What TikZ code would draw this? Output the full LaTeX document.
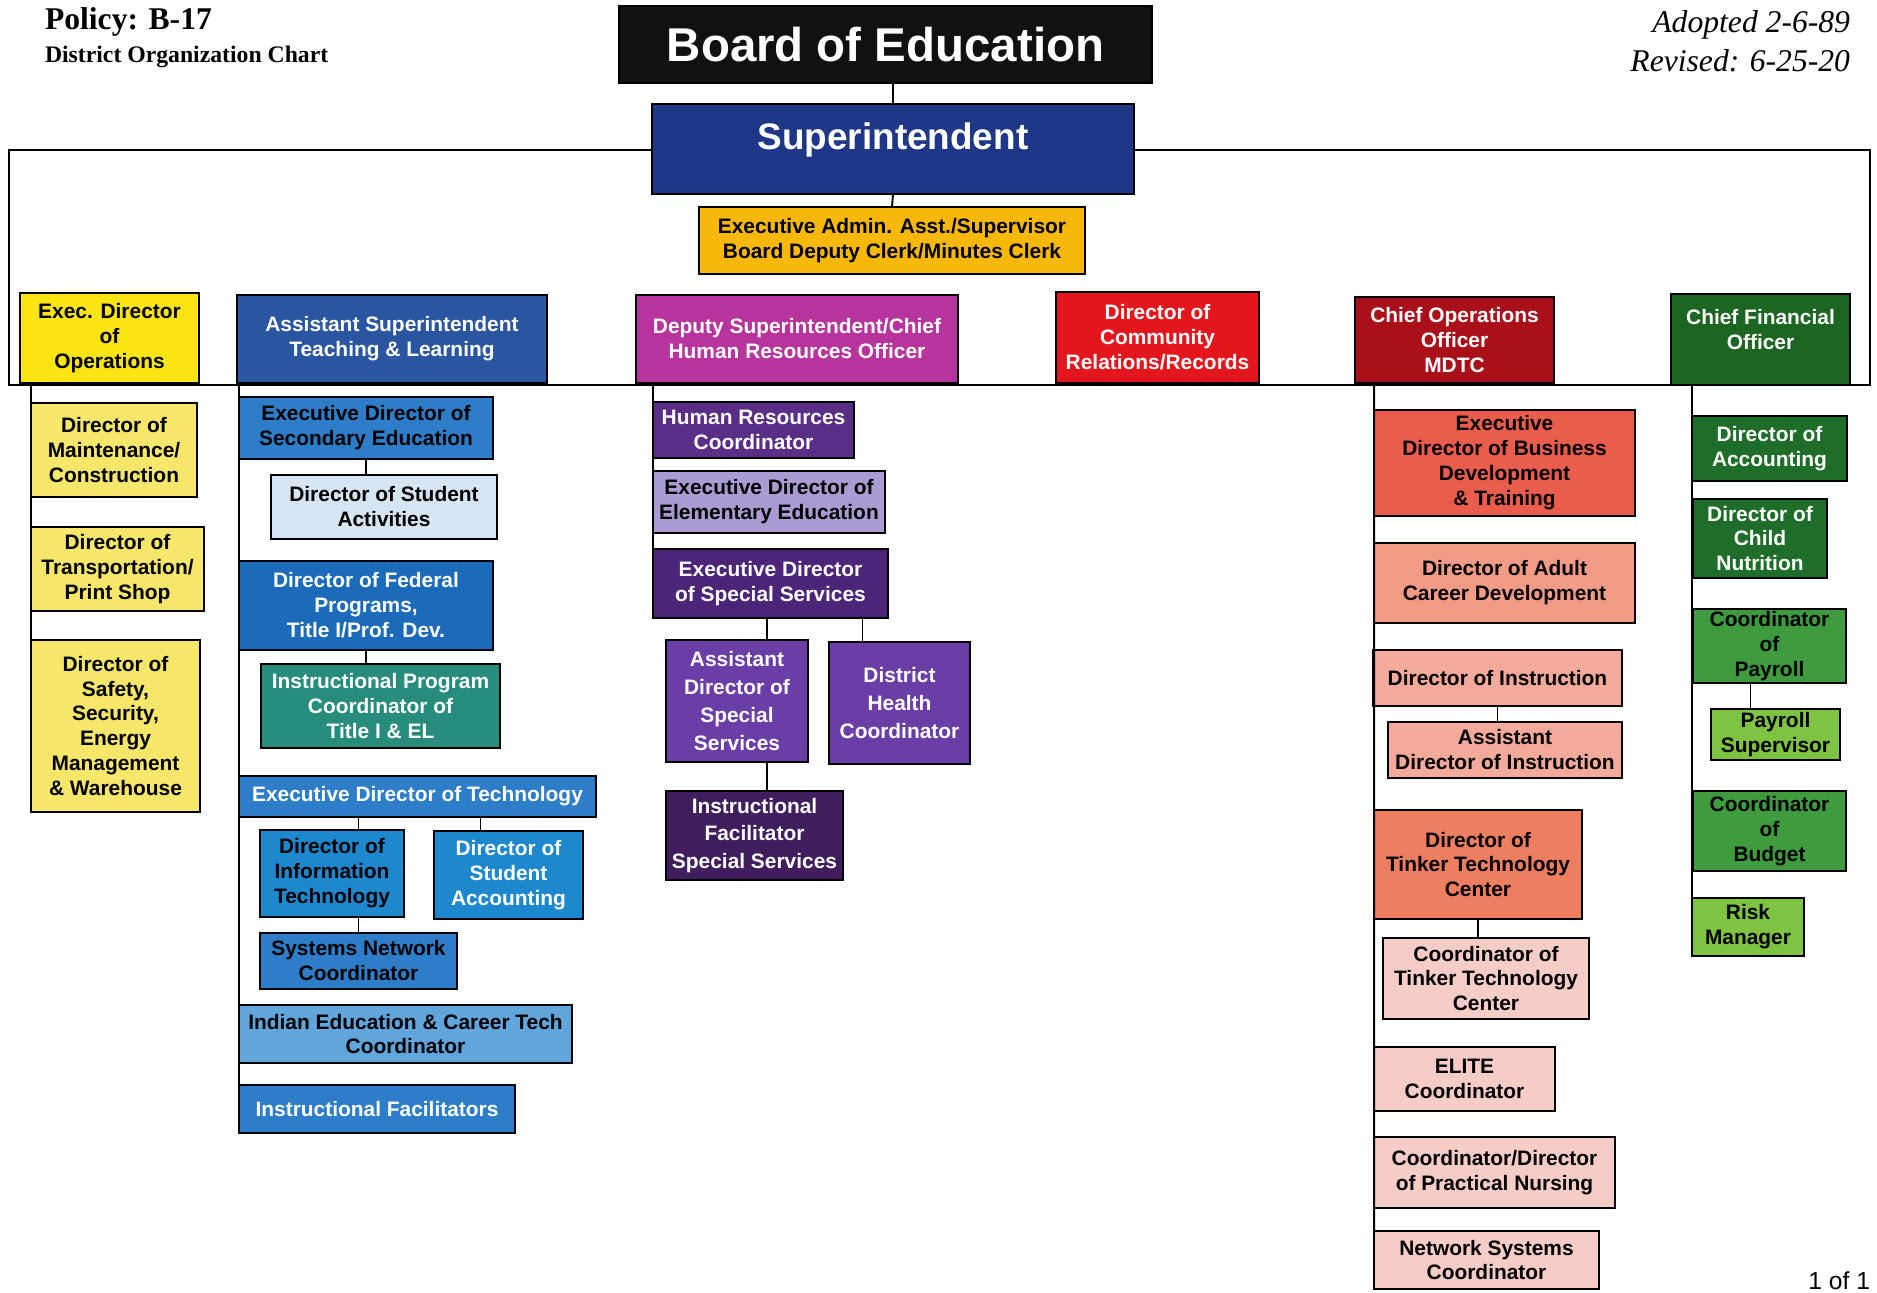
\documentclass[tikz,border=0pt]{standalone}
\usepackage{fontspec}
\setmainfont{Liberation Serif}
\setsansfont{Liberation Sans}
\usepackage{tikz}
\usetikzlibrary{
    positioning,
    calc
}
\definecolor{orgBlack}{RGB}{18, 16, 16}
\definecolor{orgNavy}{RGB}{30, 55, 135}
\definecolor{orgGold}{RGB}{247, 184, 10}
\definecolor{orgYellow}{RGB}{250, 228, 20}
\definecolor{orgPaleYellow}{RGB}{246, 230, 105}
\definecolor{orgRoyal}{RGB}{42, 85, 160}
\definecolor{orgMagenta}{RGB}{182, 52, 155}
\definecolor{orgRed}{RGB}{226, 22, 28}
\definecolor{orgDarkRed}{RGB}{170, 16, 26}
\definecolor{orgGreen}{RGB}{28, 102, 34}
\definecolor{orgSky}{RGB}{45, 125, 200}
\definecolor{orgIce}{RGB}{214, 229, 242}
\definecolor{orgCobalt}{RGB}{28, 106, 186}
\definecolor{orgTeal}{RGB}{40, 140, 125}
\definecolor{orgAzure}{RGB}{30, 136, 206}
\definecolor{orgLightBlue}{RGB}{96, 165, 220}
\definecolor{orgPurple}{RGB}{90, 46, 135}
\definecolor{orgLavender}{RGB}{170, 156, 210}
\definecolor{orgDeepPurple}{RGB}{76, 36, 120}
\definecolor{orgViolet}{RGB}{106, 62, 166}
\definecolor{orgPlum}{RGB}{64, 30, 94}
\definecolor{orgCoral}{RGB}{234, 92, 76}
\definecolor{orgSalmon}{RGB}{242, 156, 136}
\definecolor{orgPeach}{RGB}{243, 170, 154}
\definecolor{orgTangerine}{RGB}{238, 126, 96}
\definecolor{orgBlush}{RGB}{246, 205, 198}
\definecolor{orgForest}{RGB}{30, 110, 42}
\definecolor{orgLeaf}{RGB}{62, 155, 62}
\definecolor{orgLime}{RGB}{126, 195, 66}

\newcommand{\boxfont}{\sffamily\bfseries\fontsize{11.9}{14.2}\selectfont}
\newcommand{\loosefont}{\sffamily\bfseries\fontsize{11.9}{15.8}\selectfont}

\tikzset{
    orgbox/.style={draw=black, line width=1.3pt, inner sep=0pt, outer sep=0pt,
        align=center, font=\boxfont},
    link/.style={line width=1.1pt},
    plain/.style={inner sep=0pt, outer sep=0pt}
}

\begin{document}
\begin{tikzpicture}[x=0.02cm, y=-0.02cm]
    \useasboundingbox (0,0) rectangle (1877,1293);

    % Header texts
    \node[plain, anchor=base west, font=\bfseries\fontsize{18}{20}\selectfont] (Policy) at (45,30) {Policy: B-17};
    \node[plain, anchor=base west, font=\bfseries\fontsize{13.5}{16}\selectfont] (ChartName) at (45,63) {District Organization Chart};
    \node[plain, anchor=base east, font=\itshape\fontsize{18}{20}\selectfont] (Adopted) at (1850,33) {Adopted 2-6-89};
    \node[plain, anchor=base east, font=\itshape\fontsize{18}{20}\selectfont] (Revised) at (1850,72) {Revised: 6-25-20};
    \node[plain, anchor=base east, font=\sffamily\fontsize{14}{16}\selectfont] (PageNo) at (1870,1289) {1 of 1};

    % Board, superintendent, assistant
    \node[orgbox, fill=orgBlack, text=white, font=\sffamily\bfseries\fontsize{27}{30}\selectfont,
        minimum width=10.66cm, minimum height=1.54cm] (Board) at (885.5,44.5) {Board of Education};
    \node[orgbox, fill=orgNavy, text=white, font=\sffamily\bfseries\fontsize{21}{24}\selectfont,
        text depth=15pt, minimum width=9.64cm, minimum height=1.8cm] (Super) at (893,149) {Superintendent};
    \node[orgbox, fill=orgGold, minimum width=7.72cm, minimum height=1.34cm] (Admin) at (892,240.5)
        {Executive Admin. Asst./Supervisor\\Board Deputy Clerk/Minutes Clerk};

    % Top tier
    \node[orgbox, fill=orgYellow, minimum width=3.58cm, minimum height=1.8cm] (ExecOps) at (109.5,338) {Exec. Director\\of\\Operations};
    \node[orgbox, fill=orgRoyal, text=white, minimum width=6.2cm, minimum height=1.76cm] (AsstSup) at (392,339) {Assistant Superintendent\\Teaching \& Learning};
    \node[orgbox, fill=orgMagenta, text=white, minimum width=6.44cm, minimum height=1.76cm] (Deputy) at (797,339) {Deputy Superintendent/Chief\\Human Resources Officer};
    \node[orgbox, fill=orgRed, text=white, minimum width=4.06cm, minimum height=1.82cm] (Community) at (1157.5,337.5) {Director of\\Community\\Relations/Records};
    \node[orgbox, fill=orgDarkRed, text=white, minimum width=3.98cm, minimum height=1.72cm] (COO) at (1454.5,340) {Chief Operations\\Officer\\MDTC};
    \node[orgbox, fill=orgGreen, text=white, text depth=11pt, minimum width=3.58cm, minimum height=1.82cm] (CFO) at (1760.5,339.5) {Chief Financial\\Officer};

    % Operations column
    \node[orgbox, fill=orgPaleYellow, minimum width=3.32cm, minimum height=1.88cm] (Maint) at (114,450) {Director of\\Maintenance/\\Construction};
    \node[orgbox, fill=orgPaleYellow, minimum width=3.46cm, minimum height=1.68cm] (Transp) at (117.5,569) {Director of\\Transportation/\\Print Shop};
    \node[orgbox, fill=orgPaleYellow, minimum width=3.38cm, minimum height=3.44cm] (Safety) at (115.5,726) {Director of\\Safety,\\Security,\\Energy\\Management\\\& Warehouse};

    % Teaching & learning column
    \node[orgbox, fill=orgSky, minimum width=5.08cm, minimum height=1.24cm] (Secondary) at (366,428) {Executive Director of\\Secondary Education};
    \node[orgbox, fill=orgIce, minimum width=4.52cm, minimum height=1.28cm] (StudAct) at (384,507) {Director of Student\\Activities};
    \node[orgbox, fill=orgCobalt, text=white, minimum width=5.08cm, minimum height=1.78cm] (Federal) at (366,605.5) {Director of Federal\\Programs,\\Title I/Prof. Dev.};
    \node[orgbox, fill=orgTeal, text=white, minimum width=4.78cm, minimum height=1.68cm] (TitleI) at (380.5,706) {Instructional Program\\Coordinator of\\Title I \& EL};
    \node[orgbox, fill=orgSky, text=white, minimum width=7.14cm, minimum height=0.82cm] (Tech) at (417.5,796.5) {Executive Director of Technology};
    \node[orgbox, fill=orgAzure, minimum width=2.88cm, minimum height=1.74cm] (InfoTech) at (332,873.5) {Director of\\Information\\Technology};
    \node[orgbox, fill=orgAzure, text=white, minimum width=2.98cm, minimum height=1.76cm] (StuAcct) at (508.5,875) {Director of\\Student\\Accounting};
    \node[orgbox, fill=orgSky, minimum width=3.94cm, minimum height=1.12cm] (SysNet) at (358.5,961) {Systems Network\\Coordinator};
    \node[orgbox, fill=orgLightBlue, minimum width=6.66cm, minimum height=1.16cm] (Indian) at (405.5,1034) {Indian Education \& Career Tech\\Coordinator};
    \node[orgbox, fill=orgSky, text=white, minimum width=5.52cm, minimum height=0.96cm] (InstrFac) at (377,1109) {Instructional Facilitators};

    % Human resources column
    \node[orgbox, fill=orgPurple, text=white, minimum width=4.02cm, minimum height=1.12cm] (HRCoord) at (753.5,430) {Human Resources\\Coordinator};
    \node[orgbox, fill=orgLavender, minimum width=4.64cm, minimum height=1.24cm] (Elem) at (769,502) {Executive Director of\\Elementary Education};
    \node[orgbox, fill=orgDeepPurple, text=white, minimum width=4.70cm, minimum height=1.38cm] (SpecSvc) at (770.5,583.5) {Executive Director\\of Special Services};
    \node[orgbox, fill=orgViolet, text=white, font=\loosefont, minimum width=2.84cm, minimum height=2.44cm] (AsstSpec) at (737,701) {Assistant\\Director of\\Special\\Services};
    \node[orgbox, fill=orgViolet, text=white, font=\loosefont, minimum width=2.82cm, minimum height=2.44cm] (Health) at (899.5,703) {District\\Health\\Coordinator};
    \node[orgbox, fill=orgPlum, text=white, font=\loosefont, minimum width=3.54cm, minimum height=1.78cm] (InstrFacSp) at (754.5,835.5) {Instructional\\Facilitator\\Special Services};

    % Operations officer column
    \node[orgbox, fill=orgCoral, minimum width=5.22cm, minimum height=2.12cm] (BizDev) at (1504.5,463) {Executive\\Director of Business\\Development\\\& Training};
    \node[orgbox, fill=orgSalmon, minimum width=5.22cm, minimum height=1.60cm] (Adult) at (1504.5,583) {Director of Adult\\Career Development};
    \node[orgbox, fill=orgPeach, minimum width=4.98cm, minimum height=1.12cm] (Instr) at (1497.5,678) {Director of Instruction};
    \node[orgbox, fill=orgPeach, minimum width=4.68cm, minimum height=1.12cm] (AsstInstr) at (1505,750) {Assistant\\Director of Instruction};
    \node[orgbox, fill=orgTangerine, minimum width=4.16cm, minimum height=2.18cm] (Tinker) at (1478,864.5) {Director of\\Tinker Technology\\Center};
    \node[orgbox, fill=orgBlush, minimum width=4.12cm, minimum height=1.62cm] (TinkerCoord) at (1486,978.5) {Coordinator of\\Tinker Technology\\Center};
    \node[orgbox, fill=orgBlush, minimum width=3.62cm, minimum height=1.28cm] (Elite) at (1464.5,1079) {ELITE\\Coordinator};
    \node[orgbox, fill=orgBlush, minimum width=4.82cm, minimum height=1.42cm] (Nursing) at (1494.5,1172.5) {Coordinator/Director\\of Practical Nursing};
    \node[orgbox, fill=orgBlush, minimum width=4.50cm, minimum height=1.16cm] (NetSys) at (1486.5,1260) {Network Systems\\Coordinator};

    % Finance column
    \node[orgbox, fill=orgForest, text=white, minimum width=3.10cm, minimum height=1.30cm] (Accounting) at (1769.5,448.5) {Director of\\Accounting};
    \node[orgbox, fill=orgForest, text=white, minimum width=2.68cm, minimum height=1.58cm] (Nutrition) at (1760,538.5) {Director of\\Child\\Nutrition};
    \node[orgbox, fill=orgLeaf, minimum width=3.06cm, minimum height=1.48cm] (Payroll) at (1769.5,646) {Coordinator\\of\\Payroll};
    \node[orgbox, fill=orgLime, minimum width=2.58cm, minimum height=1.02cm] (PaySup) at (1775.5,734.5) {Payroll\\Supervisor};
    \node[orgbox, fill=orgLeaf, minimum width=3.06cm, minimum height=1.60cm] (Budget) at (1769.5,831) {Coordinator\\of\\Budget};
    \node[orgbox, fill=orgLime, minimum width=2.24cm, minimum height=1.16cm] (Risk) at (1748,927) {Risk\\Manager};

    % Frame round the top tier
    \coordinate (FrameTL) at (9,150);
    \coordinate (FrameBL) at (9,385);
    \coordinate (FrameBR) at (1870,385);
    \coordinate (FrameTR) at (1870,150);
    \draw[link] (Super.west |- FrameTL) -- (FrameTL) -- (FrameBL) -- (FrameBR) -- (FrameTR) -- (Super.east |- FrameTR);

    % Top connectors
    \draw[link] (Board.south -| Super.north) -- (Super.north);
    \draw[link] (Super.south) -- (Admin.north);

    % Column spines
    \draw[link] (ExecOps.south -| Maint.west) -- (Safety.north west);
    \draw[link] (AsstSup.south -| Secondary.west) -- (InstrFac.north west);
    \draw[link] (Deputy.south -| HRCoord.west) -- (SpecSvc.north west);
    \draw[link] (COO.south -| BizDev.west) -- (NetSys.north west);
    \draw[link] (CFO.south -| Accounting.west) -- (Risk.north west);

    % Sub connectors
    \draw[link] (Secondary.south) -- (Secondary.south |- StudAct.north);
    \draw[link] (Federal.south) -- (Federal.south |- TitleI.north);
    \draw[link] (SysNet.north |- Tech.south) -- (SysNet.north |- InfoTech.north);
    \draw[link] (SysNet.north |- InfoTech.south) -- (SysNet.north);
    \coordinate (AcctDrop) at ($(StuAcct.north)+(-28,0)$);
    \draw[link] (AcctDrop |- Tech.south) -- (AcctDrop);
    \coordinate (SpecDrop) at ($(AsstSpec.north)+(30,0)$);
    \draw[link] (SpecDrop |- SpecSvc.south) -- (SpecDrop);
    \draw[link] (SpecDrop |- AsstSpec.south) -- (SpecDrop |- InstrFacSp.north);
    \coordinate (HealthDrop) at ($(Health.north)+(-37,0)$);
    \draw[link] (HealthDrop |- SpecSvc.south) -- (HealthDrop);
    \draw[link] (Instr.south) -- (Instr.south |- AsstInstr.north);
    \draw[link] (Tinker.south) -- (Tinker.south |- TinkerCoord.north);
    \coordinate (PayDrop) at ($(PaySup.north)+(-25,0)$);
    \draw[link] (PayDrop |- Payroll.south) -- (PayDrop);
\end{tikzpicture}
\end{document}
